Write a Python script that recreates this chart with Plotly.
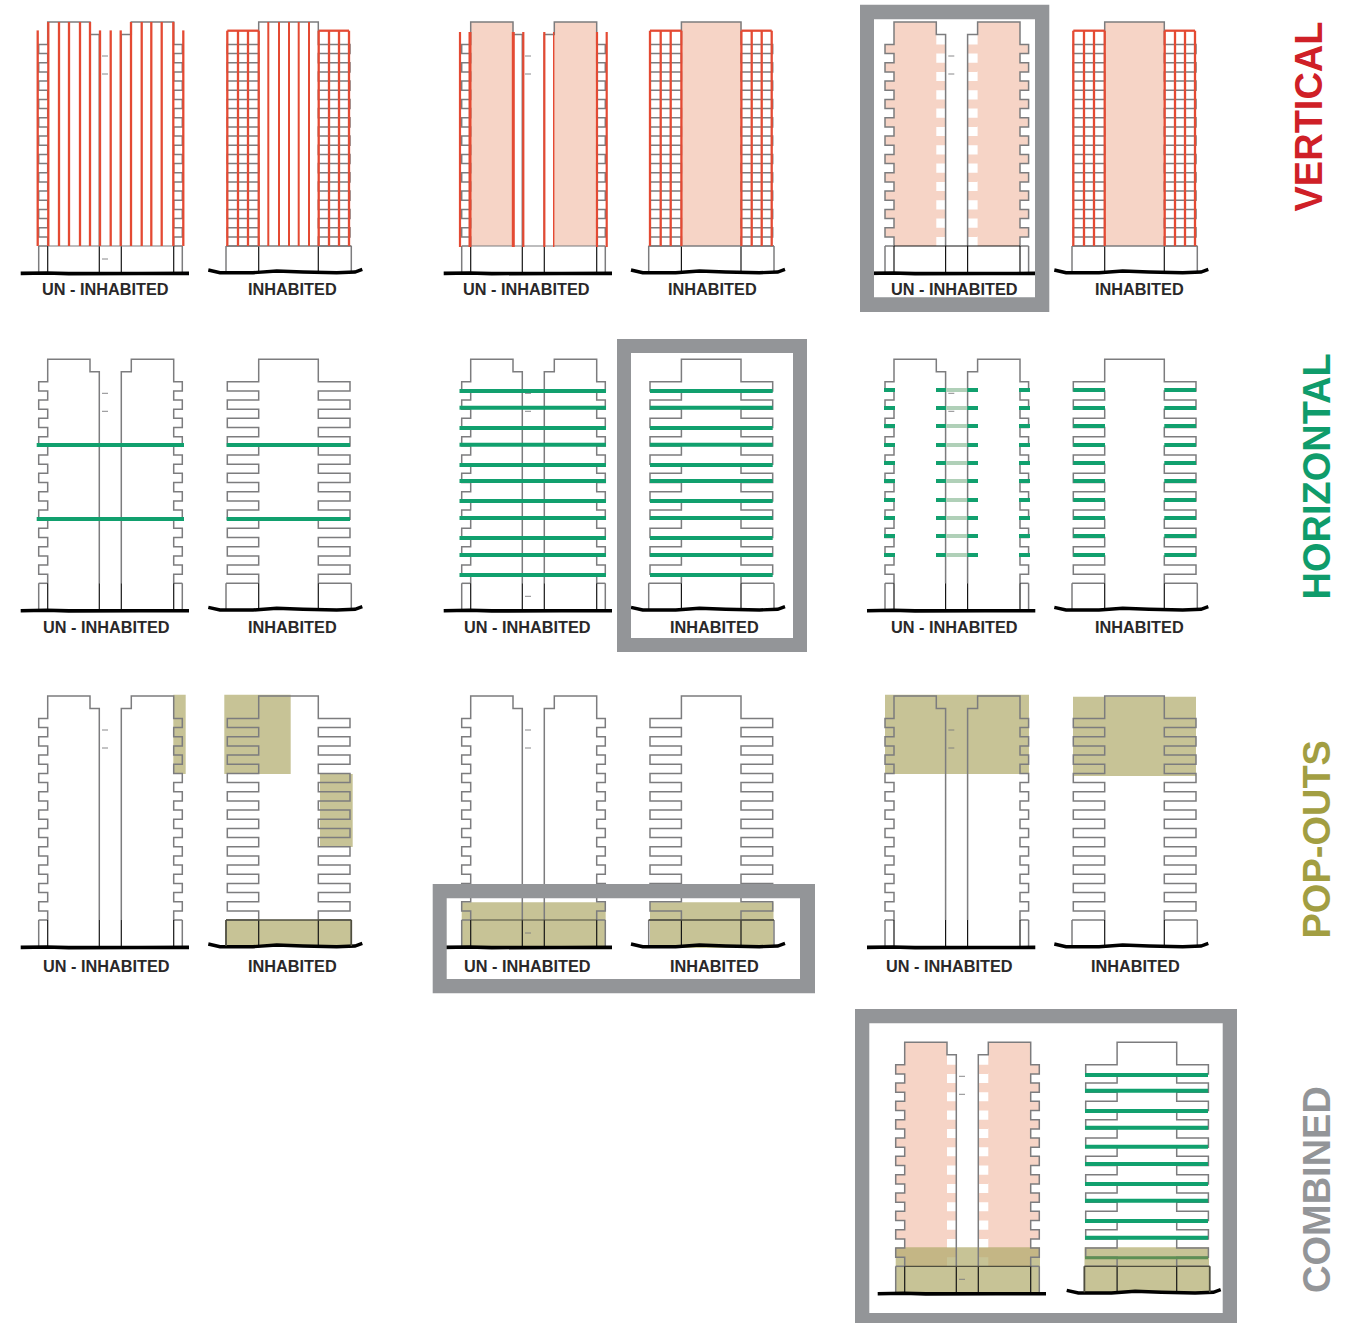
import plotly.graph_objects as go

# ---- layout of the sheet (positions, in image pixels) ----
ROW_TOP = [22.0, 359.3, 696.0]
UN_X = [38.7, 461.7, 885.0]
INH_X = [227.3, 650.0, 1073.3]
COMBO_TOP = 1042.3
COMBO_UN_X = 895.7
COMBO_INH_X = 1085.7

# ---- building geometry, relative to a panel origin ----
FLOOR_TOPS = [22.4, 40.7, 59.0, 77.4, 95.7, 114.0, 132.4, 150.7, 169.0, 187.4, 205.7]
BALCONY_H = 9.2
PODIUM_Y = 224.0
UN_EDGES = [0.0, 9.0, 51.3, 60.6, 82.6, 92.6, 135.0, 143.6]
INH_EDGES = [0.0, 31.4, 91.0, 122.7]
INH_PODIUM = [-1.3, 31.4, 91.0, 124.0]
STEP_Y = 12.4
TICK_Y = [34.0, 52.0]
TICK_X = [63.3, 69.3]
PODIUM_TICK_Y = 237.0
UN_GROUND_DX = [-18.0, 8.0, 30.0, 60.0, 100.0, 150.3]
UN_GROUND_DY = [27.4, 27.0, 27.6, 27.2, 27.5, 27.4]
INH_GROUND_DX = [-19.0, -7.3, 25.7, 49.4, 75.7, 109.4, 127.7, 135.0]
INH_GROUND_DY = [24.0, 26.7, 26.7, 25.0, 26.0, 26.7, 26.0, 23.4]

# ---- vertical (red) schemes ----
RED_C1_UN_TALL = [48.3, 59.0, 69.0, 80.0, 90.0, 131.0, 141.7, 151.3, 161.7, 173.3]
RED_C1_UN_SHORT = [37.7, 100.0, 110.7, 120.7, 183.3]
RED_C1_INH_MID = [268.3, 279.0, 289.0, 298.7, 309.0]
RED_C2_UN = [460.0, 523.3, 544.3, 597.0, 606.7]
RED_C2_UN_HEAVY = [470.0, 513.3]
RED_C2_UN_THIN = [553.7]
RED_GRID_DX = [0.0, 10.7, 20.7, 31.4, 91.4, 101.7, 111.7, 121.7]
RED_GRID_TOP = 8.7

# ---- horizontal (green) schemes ----
GREEN_C1_Y = [85.7, 159.7]
GREEN_C2_Y = [31.7, 48.4, 68.7, 85.4, 105.7, 121.7, 141.7, 158.7, 178.7, 195.7, 215.7]
GREEN_C3_Y = [30.7, 48.7, 66.7, 85.7, 103.7, 121.7, 140.7, 158.7, 176.7, 195.7]
GREEN_COMBO_Y = [32.7, 48.4, 68.7, 85.4, 104.4, 121.7, 141.7, 158.4, 178.7, 195.4]
GREEN_COMBO_FAINT_Y = 215.4
GREEN_C3_UN_DX = [(-1.0, 10.0), (51.0, 61.0), (82.3, 93.0), (134.0, 145.0)]
GREEN_C3_UN_PALE_DX = (61.0, 82.3)
GREEN_C3_INH_DX = [(0.0, 31.7), (91.0, 122.7)]

# ---- olive pop-out blocks: x0, x1, y0, y1 ----
OLIVE_X0 = [173.3, 224.3, 320.0, 225.7, 461.7, 650.0, 885.0, 1073.0, 895.7, 1084.5]
OLIVE_X1 = [185.7, 290.7, 352.7, 351.3, 605.7, 773.5, 1029.0, 1196.0, 1040.0, 1209.0]
OLIVE_Y0 = [694.7, 694.7, 774.0, 920.0, 902.3, 902.3, 694.7, 696.7, 1247.3, 1247.3]
OLIVE_Y1 = [774.0, 774.0, 847.0, 946.5, 948.0, 948.0, 774.0, 776.0, 1293.0, 1293.0]

# ---- grey selection frames ----
FRAME_OUT_X0 = [860.0, 617.0, 432.7, 855.0]
FRAME_OUT_X1 = [1049.3, 807.0, 815.0, 1237.0]
FRAME_OUT_Y0 = [4.7, 339.0, 884.0, 1009.0]
FRAME_OUT_Y1 = [312.0, 652.0, 993.3, 1323.0]
FRAME_IN_X0 = [874.0, 631.0, 446.7, 869.3]
FRAME_IN_X1 = [1035.0, 793.0, 800.0, 1222.7]
FRAME_IN_Y0 = [19.3, 353.0, 898.3, 1023.3]
FRAME_IN_Y1 = [297.3, 638.0, 979.0, 1313.0]

# ---- labels ----
LABEL_UN = "UN - INHABITED"
LABEL_INH = "INHABITED"
LABEL_X = [105.5, 292.0, 526.0, 712.0, 954.0, 1139.5,
           106.5, 292.5, 527.5, 714.0, 954.0, 1139.5,
           106.5, 292.5, 527.5, 714.0, 949.0, 1135.0]
LABEL_Y = [289.0, 627.0, 966.0]
SIDE_TITLES = ["VERTICAL", "HORIZONTAL", "POP-OUTS", "COMBINED"]
SIDE_X = [1308.0, 1316.0, 1316.0, 1317.0]
SIDE_Y = [116.5, 476.5, 839.5, 1190.0]
SIDE_COLORS = ["#CF2027", "#0F9C6B", "#A29E42", "#939598"]

GREY = "#7C7C7E"
BLACK = "#151515"
DARK = "#4F4E3E"
RED = "#E44A33"
GREEN = "#11A06E"
PALE = "#F6D4C6"
OLIVE = "rgba(175,169,105,0.7)"
FRAME = "#939598"
TEXT = "#2A2829"
FONT = "Liberation Sans"

fig = go.Figure()


def line(xs, ys, color=GREY, width=1.5):
    fig.add_trace(go.Scatter(x=xs, y=ys, mode="lines", line=dict(color=color, width=width),
                             hoverinfo="skip", showlegend=False))


def fill(xs, ys, color):
    fig.add_trace(go.Scatter(x=xs, y=ys, mode="lines", fill="toself", fillcolor=color,
                             line=dict(width=0, color=color), hoverinfo="skip", showlegend=False))


def rects(rs, color):
    xs, ys = [], []
    for x0, x1, y0, y1 in rs:
        xs += [x0, x1, x1, x0, x0, None]
        ys += [y0, y0, y1, y1, y0, None]
    fill(xs, ys, color)


def segs(ss, color=GREY, width=1.5):
    xs, ys = [], []
    for x0, y0, x1, y1 in ss:
        xs += [x0, x1, None]
        ys += [y0, y1, None]
    line(xs, ys, color, width)


def comb(xout, xin, top):
    pts = []
    for t in FLOOR_TOPS:
        pts += [(xin, top + t), (xout, top + t), (xout, top + t + BALCONY_H), (xin, top + t + BALCONY_H)]
    pts.append((xin, top + PODIUM_Y))
    return pts


def un_outline(x0, top, cross=None, tick=False):
    e = [x0 + v for v in UN_EDGES]
    p = top + PODIUM_Y
    left = [(e[3], p), (e[3], top + STEP_Y), (e[2], top + STEP_Y), (e[2], top), (e[1], top)] + comb(e[0], e[1], top)
    right = [(e[4], p), (e[4], top + STEP_Y), (e[5], top + STEP_Y), (e[5], top), (e[6], top)] + comb(e[7], e[6], top)
    for pts in (left, right):
        line([a for a, _ in pts], [b for _, b in pts])
    g = p + UN_GROUND_DY[0]
    segs([(e[0], p, e[0], g), (e[7], p, e[7], g), (e[0], p, e[1], p), (e[6], p, e[7], p)], GREY, 1.5)
    segs([(e[1], p, e[1], g), (e[3], p, e[3], g), (e[4], p, e[4], g), (e[6], p, e[6], g)], BLACK, 1.2)
    if cross:
        segs([(e[1], p, e[6], p)], cross, 1.2)
    segs([(x0 + TICK_X[0], top + t, x0 + TICK_X[1], top + t) for t in TICK_Y], GREY, 0.9)
    if tick:
        segs([(x0 + TICK_X[0], top + PODIUM_TICK_Y, x0 + TICK_X[1], top + PODIUM_TICK_Y)], GREY, 0.9)
    line([x0 + d for d in UN_GROUND_DX], [top + PODIUM_Y + d for d in UN_GROUND_DY], "#000000", 3.6)


def inh_outline(x0, top, cross=None):
    e = [x0 + v for v in INH_EDGES]
    q = [x0 + v for v in INH_PODIUM]
    p = top + PODIUM_Y
    left = [(e[1], p)] + list(reversed(comb(e[0], e[1], top)[:-1])) + [(e[1], top), (e[2], top)] + comb(e[3], e[2], top)
    line([a for a, _ in left], [b for _, b in left])
    g = p + INH_GROUND_DY[1] - 0.7
    segs([(q[0], p, q[0], g), (q[3], p, q[3], g), (q[0], p, q[1], p), (q[2], p, q[3], p)], GREY, 1.5)
    segs([(q[1], p, q[1], g), (q[2], p, q[2], g)], BLACK, 1.2)
    if cross:
        segs([(q[0], p, q[3], p)], cross, 1.3)
    line([x0 + d for d in INH_GROUND_DX], [top + PODIUM_Y + d for d in INH_GROUND_DY], "#000000", 3.4)


def pale_un(x0, top):
    e = [x0 + v for v in UN_EDGES]
    p = top + PODIUM_Y
    r = [(e[1], e[2], top, p), (e[5], e[6], top, p)]
    for t in FLOOR_TOPS:
        y0, y1 = top + t, top + t + BALCONY_H
        r += [(e[0], e[1], y0, y1), (e[2], e[3], y0, y1), (e[4], e[5], y0, y1), (e[6], e[7], y0, y1)]
    rects(r, PALE)


def red_grid(x0, top):
    dx = [x0 + d for d in RED_GRID_DX]
    b = top + PODIUM_Y
    t = top + RED_GRID_TOP
    segs([(x, t, x, b) for x in dx], RED, 2.3)
    segs([(dx[0], t, dx[3], t), (dx[4], t, dx[7], t)], RED, 2.3)


# ---- pale fills ----
r1 = ROW_TOP[0]
rects([(470.7, 513.3, r1, r1 + PODIUM_Y), (554.0, 596.7, r1, r1 + PODIUM_Y),
       (INH_X[1] + 32.0, INH_X[1] + 91.7, r1, r1 + PODIUM_Y),
       (INH_X[2] + 31.4, INH_X[2] + 91.4, r1, r1 + PODIUM_Y)], PALE)
pale_un(UN_X[2], r1)
pale_un(COMBO_UN_X, COMBO_TOP)

# ---- olive blocks ----
rects(list(zip(OLIVE_X0, OLIVE_X1, OLIVE_Y0, OLIVE_Y1)), OLIVE)

# ---- building outlines ----
for row, top in enumerate(ROW_TOP):
    for col in range(3):
        cross_un = None
        if row == 0:
            cross_un = BLACK if col == 2 else GREY
        elif row == 2 and col == 1:
            cross_un = DARK
        cross_inh = None
        if row == 0:
            cross_inh = GREY
        elif row == 2 and col in (0, 1):
            cross_inh = DARK
        tick = (row == 0 and col == 0) or (row in (1, 2) and col == 1)
        un_outline(UN_X[col], top, cross_un, tick)
        inh_outline(INH_X[col], top, cross_inh)
un_outline(COMBO_UN_X, COMBO_TOP, DARK, True)
inh_outline(COMBO_INH_X, COMBO_TOP, DARK)

# ---- dark edges round the podium blocks ----
for x0, top in ((INH_X[0], ROW_TOP[2]), (COMBO_INH_X, COMBO_TOP)):
    q0, q3 = x0 + INH_PODIUM[0], x0 + INH_PODIUM[3]
    p = top + PODIUM_Y
    segs([(q0, p, q0, p + 26.0), (q3, p, q3, p + 26.0)], DARK, 1.6)

# ---- red vertical members ----
segs([(x, r1, x, r1 + PODIUM_Y) for x in RED_C1_UN_TALL], RED, 2.3)
segs([(x, r1 + 8.4, x, r1 + PODIUM_Y) for x in RED_C1_UN_SHORT], RED, 2.3)
segs([(x, r1, x, r1 + PODIUM_Y) for x in RED_C1_INH_MID], RED, 2.0)
segs([(x, r1 + 10.0, x, r1 + 225.0) for x in RED_C2_UN], RED, 2.2)
segs([(x, r1 + 10.0, x, r1 + 225.0) for x in RED_C2_UN_HEAVY], RED, 3.0)
segs([(x, r1 + 10.0, x, r1 + 225.0) for x in RED_C2_UN_THIN], RED, 1.4)
red_grid(INH_X[0], r1)
red_grid(INH_X[1], r1)
red_grid(INH_X[2], r1)

# ---- green horizontals ----
r2 = ROW_TOP[1]
W = 4.0
segs([(36.7, r2 + y, 184.0, r2 + y) for y in GREEN_C1_Y], GREEN, W)
segs([(226.7, r2 + y, 350.0, r2 + y) for y in GREEN_C1_Y], GREEN, W)
segs([(459.5, r2 + y, 606.0, r2 + y) for y in GREEN_C2_Y], GREEN, W)
segs([(650.0, r2 + y, 772.7, r2 + y) for y in GREEN_C2_Y], GREEN, W)
segs([(UN_X[2] + GREEN_C3_UN_PALE_DX[0], r2 + y, UN_X[2] + GREEN_C3_UN_PALE_DX[1], r2 + y)
      for y in GREEN_C3_Y], "#B0D0B8", W)
segs([(UN_X[2] + a, r2 + y, UN_X[2] + b, r2 + y) for y in GREEN_C3_Y for a, b in GREEN_C3_UN_DX], GREEN, W)
segs([(INH_X[2] + a, r2 + y, INH_X[2] + b, r2 + y) for y in GREEN_C3_Y for a, b in GREEN_C3_INH_DX], GREEN, W)
segs([(COMBO_INH_X - 0.7, COMBO_TOP + y, COMBO_INH_X + 122.3, COMBO_TOP + y) for y in GREEN_COMBO_Y], GREEN, W)
segs([(COMBO_INH_X - 0.7, COMBO_TOP + GREEN_COMBO_FAINT_Y, COMBO_INH_X + 122.3, COMBO_TOP + GREEN_COMBO_FAINT_Y)],
     "#5E8F55", 3.0)

# ---- frames ----
fr = []
for ox0, ox1, oy0, oy1, ix0, ix1, iy0, iy1 in zip(FRAME_OUT_X0, FRAME_OUT_X1, FRAME_OUT_Y0, FRAME_OUT_Y1,
                                                  FRAME_IN_X0, FRAME_IN_X1, FRAME_IN_Y0, FRAME_IN_Y1):
    fr += [(ox0, ox1, oy0, iy0), (ox0, ox1, iy1, oy1), (ox0, ix0, iy0, iy1), (ix1, ox1, iy0, iy1)]
rects(fr, FRAME)

# ---- text ----
ann = []
for i, x in enumerate(LABEL_X):
    ann.append(dict(x=x, y=LABEL_Y[i // 6], text="<b>%s</b>" % (LABEL_UN if i % 2 == 0 else LABEL_INH),
                    showarrow=False, xanchor="center", yanchor="middle",
                    font=dict(family=FONT, size=16.3, color=TEXT)))
for t, x, y, c in zip(SIDE_TITLES, SIDE_X, SIDE_Y, SIDE_COLORS):
    ann.append(dict(x=x, y=y, text="<b>%s</b>" % t, textangle=-90, showarrow=False,
                    xanchor="center", yanchor="middle", font=dict(family=FONT, size=38.0, color=c)))

fig.update_layout(
    width=1368, height=1323, autosize=False,
    margin=dict(l=0, r=0, t=0, b=0),
    paper_bgcolor="white", plot_bgcolor="white",
    xaxis=dict(range=[0, 1368], visible=False, fixedrange=True),
    yaxis=dict(range=[1323, 0], visible=False, fixedrange=True),
    annotations=ann, showlegend=False,
)
fig.write_html("out.html", config={"displayModeBar": False},
               post_script="document.body.style.margin='0';document.body.style.overflow='hidden';")
